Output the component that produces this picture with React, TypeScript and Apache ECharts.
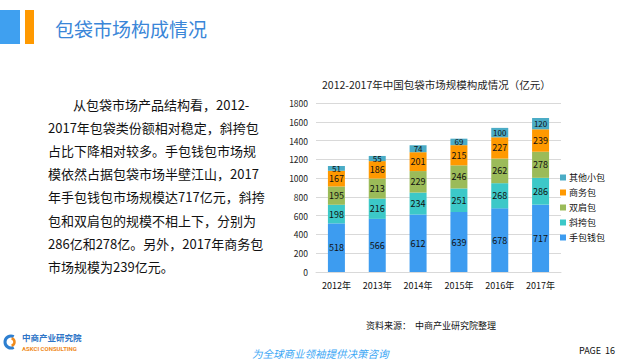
import React, { useEffect, useRef } from "react";
import * as echarts from "echarts";

const years = ["2012年", "2013年", "2014年", "2015年", "2016年", "2017年"];
const handbag = [518, 566, 612, 639, 678, 717];
const crossbody = [198, 216, 234, 251, 268, 286];
const backpack = [195, 213, 229, 246, 262, 278];
const business = [167, 186, 201, 215, 227, 239];
const other = [51, 55, 74, 69, 100, 120];
const seriesNames = ["手包钱包", "斜挎包", "双肩包", "商务包", "其他小包"];
const legendOrder = ["其他小包", "商务包", "双肩包", "斜挎包", "手包钱包"];
const colors = ["#3d9cf0", "#3cc8c8", "#9bbb59", "#ff9900", "#4bacc6"];
const bodyLines = [
  "从包袋市场产品结构看，2012-",
  "2017年包袋类份额相对稳定，斜挎包",
  "占比下降相对较多。手包钱包市场规",
  "模依然占据包袋市场半壁江山，2017",
  "年手包钱包市场规模达717亿元，斜挎",
  "包和双肩包的规模不相上下，分别为",
  "286亿和278亿。另外，2017年商务包",
  "市场规模为239亿元。",
];

const FONT = "'Noto Sans CJK SC', 'Microsoft YaHei', sans-serif";

export default function App() {
  const ref = useRef<HTMLDivElement>(null);
  useEffect(() => {
    if (!ref.current) return;
    const chart = echarts.init(ref.current, null, { renderer: "svg" });
    const dataSets = [handbag, crossbody, backpack, business, other];
    const series = seriesNames.map((name, i) => ({
      name,
      type: "bar",
      stack: "total",
      barWidth: 17,
      itemStyle: { color: colors[i] },
      label: {
        show: true,
        position: "inside",
        color: "#111",
        fontSize: i === 4 ? 8 : 9,
        fontFamily: FONT,
      },
      data: dataSets[i],
    }));
    const graphic: any[] = [
      { type: "rect", shape: { x: 0, y: 10, width: 20, height: 34 }, style: { fill: "#3fa0f0" } },
      { type: "rect", shape: { x: 25, y: 10, width: 9, height: 34 }, style: { fill: "#ff9900" } },
      {
        type: "text",
        x: 55,
        y: 28,
        style: { text: "包袋市场构成情况", fill: "#3a86d8", fontSize: 19, fontFamily: FONT, verticalAlign: "middle" },
      },
    ];
    bodyLines.forEach((t, i) => {
      graphic.push({
        type: "text",
        x: i === 0 ? 73 : 48,
        y: 104 + i * 23.2,
        style: { text: t, fill: "#111", fontSize: 13, fontFamily: FONT, verticalAlign: "middle" },
      });
    });
    graphic.push(
      {
        type: "text",
        x: 366,
        y: 325,
        style: { text: "资料来源：  中商产业研究院整理", fill: "#111", fontSize: 9, fontFamily: FONT, verticalAlign: "middle" },
      },
      {
        type: "text",
        x: 252,
        y: 353,
        style: {
          text: "为全球商业领袖提供决策咨询",
          fill: "#3fa9f5",
          fontSize: 10.5,
          fontStyle: "italic",
          fontFamily: FONT,
          verticalAlign: "middle",
        },
      },
      {
        type: "text",
        x: 579,
        y: 350,
        style: { text: "PAGE  16", fill: "#111", fontSize: 9, fontFamily: FONT, verticalAlign: "middle" },
      },
      {
        type: "arc",
        shape: { cx: 11, cy: 342, r: 6, startAngle: Math.PI * 0.35, endAngle: Math.PI * 1.65 },
        style: { stroke: "#2e7fd0", lineWidth: 3, fill: "none" },
      },
      {
        type: "arc",
        shape: { cx: 11, cy: 342, r: 3.5, startAngle: -Math.PI * 0.45, endAngle: Math.PI * 0.45 },
        style: { stroke: "#f08a1c", lineWidth: 2.5, fill: "none" },
      },
      {
        type: "text",
        x: 22,
        y: 337,
        style: { text: "中商产业研究院", fill: "#2e75c7", fontSize: 8.5, fontWeight: "bold", fontFamily: FONT, verticalAlign: "middle" },
      },
      {
        type: "text",
        x: 22,
        y: 348,
        style: { text: "ASKCI CONSULTING", fill: "#f08a1c", fontSize: 6, fontWeight: "bold", fontFamily: "Roboto, sans-serif", verticalAlign: "middle" },
      }
    );
    chart.setOption({
      animation: false,
      backgroundColor: "#ffffff",
      title: {
        text: "2012-2017年中国包袋市场规模构成情况（亿元）",
        left: 317,
        top: 74,
        textStyle: { fontSize: 10.5, fontWeight: "normal", color: "#222", fontFamily: FONT },
      },
      grid: { left: 316, right: 64, top: 103, bottom: 88, containLabel: false },
      legend: {
        orient: "vertical",
        left: 555,
        top: 168,
        itemWidth: 6,
        itemHeight: 6,
        itemGap: 6,
        icon: "rect",
        data: legendOrder,
        textStyle: { fontSize: 9, color: "#111", fontFamily: FONT, padding: [0, 0, 0, -2] },
      },
      xAxis: {
        type: "category",
        data: years,
        axisLine: { lineStyle: { color: "#d9d9d9" } },
        axisTick: { show: false },
        axisLabel: { fontSize: 9, color: "#111", margin: 9, fontFamily: FONT },
      },
      yAxis: {
        type: "value",
        min: 0,
        max: 1800,
        interval: 200,
        axisLine: { show: false },
        axisTick: { show: false },
        splitLine: { lineStyle: { color: "#d9d9d9" } },
        axisLabel: { fontSize: 8.5, color: "#222", margin: 8, fontFamily: FONT, formatter: (v: number) => String(v) },
      },
      series,
      graphic,
    });
    return () => chart.dispose();
  }, []);
  return <div ref={ref} style={{ position: "fixed", left: 0, top: 0, width: 625, height: 360 }} />;
}
